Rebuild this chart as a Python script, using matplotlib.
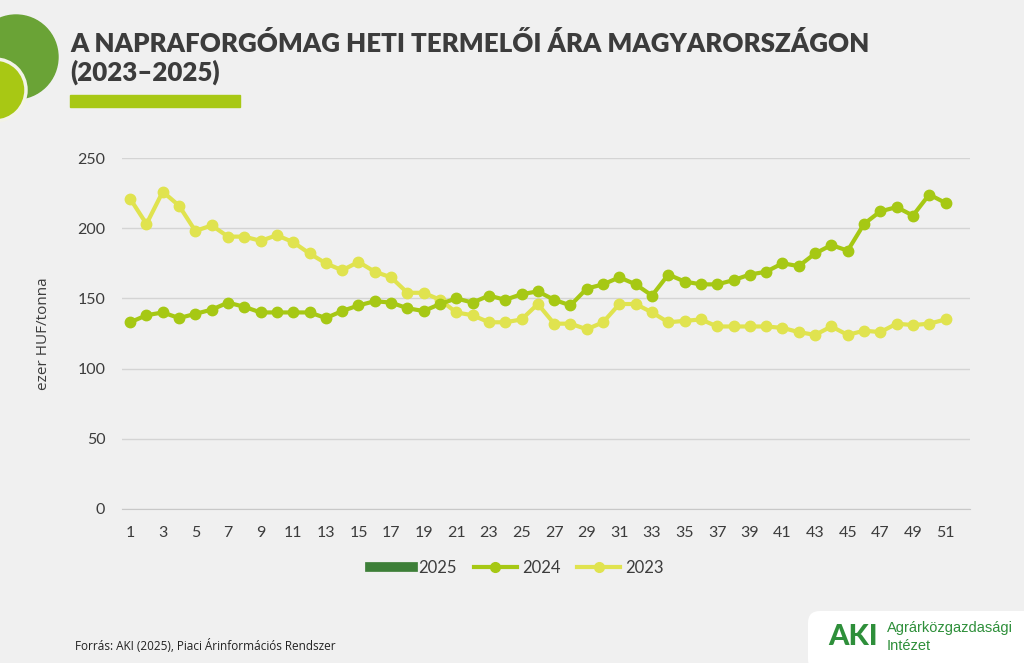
import numpy as np
import matplotlib.pyplot as plt
from matplotlib.patches import Circle, Rectangle, FancyBboxPatch
from matplotlib.lines import Line2D

# heti adatok (ezer HUF/tonna)
weeks = list(range(1, 52))
y2024 = [133, 138, 140, 136, 139, 142, 147, 144, 140, 140, 140, 140, 136, 141, 145,
         148, 147, 143, 141, 146, 150, 147, 152, 149, 153, 155, 149, 145, 157, 160,
         165, 160, 152, 167, 162, 160, 160, 163, 167, 169, 175, 173, 182, 188, 184,
         203, 212, 215, 209, 224, 218]
y2023 = [221, 203, 226, 216, 198, 202, 194, 194, 191, 195, 190, 182, 175, 170, 176,
         169, 165, 154, 154, 149, 140, 138, 133, 133, 135, 146, 132, 132, 128, 133,
         146, 146, 140, 133, 134, 135, 130, 130, 130, 130, 129, 126, 124, 130, 124,
         127, 126, 132, 131, 132, 135]
xticks = list(range(1, 52, 2))
yticks = [0, 50, 100, 150, 200, 250]

bg = '#f0f0f0'
c2025 = '#3d7f38'
c2024 = '#a6c814'
c2023 = '#e0e34f'
txt = '#3c3c3c'

fig = plt.figure(figsize=(10.24, 6.63), dpi=100, facecolor=bg)

# díszítő körök a bal felső sarokban
deco = fig.add_axes([0, 0, 1, 1], facecolor='none')
deco.set_xlim(0, 1024)
deco.set_ylim(663, 0)
deco.axis('off')
deco.add_patch(Circle((16, 57), 42, color='#6aa336', zorder=1))
deco.add_patch(Circle((-5, 90), 31, facecolor='#a8c814', edgecolor='#f3f3e8', lw=2.5, zorder=2))
deco.add_patch(Rectangle((70, 95), 170, 12, color='#a8c814'))

fig.text(70 / 1024, 1 - 44 / 663, 'A NAPRAFORGÓMAG HETI TERMELŐI ÁRA MAGYARORSZÁGON',
         fontsize=18.6, fontweight='heavy', family='Lato', color=txt, va='center')
fig.text(70 / 1024, 1 - 72 / 663, '(2023–2025)',
         fontsize=18.6, fontweight='heavy', family='Lato', color=txt, va='center')

# logó doboz
deco.add_patch(FancyBboxPatch((812, 614), 240, 60, boxstyle='round,pad=0,rounding_size=12',
                              facecolor='#c8c8c8', edgecolor='none', zorder=1))
deco.add_patch(FancyBboxPatch((808, 611), 240, 60, boxstyle='round,pad=0,rounding_size=12',
                              facecolor='white', edgecolor='none', zorder=2))
deco.text(828, 637, 'AKI', fontsize=21, fontweight='black', family='Lato', color='#2e8f3a',
          va='center', ha='left', zorder=3)
deco.text(887, 628, 'Agrárközgazdasági', fontsize=10.5, family='Liberation Sans', color='#2e8f3a',
          va='center', zorder=3)
deco.text(887, 646, 'Intézet', fontsize=10.5, family='Liberation Sans', color='#2e8f3a',
          va='center', zorder=3)

fig.text(75 / 1024, 1 - 646 / 663, 'Forrás: AKI (2025), Piaci Árinformációs Rendszer',
         fontsize=8.5, family='Open Sans', color='#222222', va='center')

# diagram
ax = fig.add_axes([122 / 1024, 1 - 509 / 663, 848 / 1024, 351 / 663], facecolor='none')
ax.plot(weeks, y2023, color=c2023, lw=3, marker='o', ms=7.5, zorder=3)
ax.plot(weeks, y2024, color=c2024, lw=3, marker='o', ms=7.5, zorder=4)
ax.set_xlim(0.5, 52.5)
ax.set_ylim(0, 250)
ax.set_xticks(xticks)
ax.set_yticks(yticks)
ax.yaxis.grid(True, color='#d4d4d4', lw=1)
ax.set_axisbelow(True)
for s in ['top', 'right', 'left']:
    ax.spines[s].set_visible(False)
ax.spines['bottom'].set_color('#c8c8c8')
ax.tick_params(length=0, labelsize=11.5, labelcolor=txt, pad=12)
ax.tick_params(axis='y', pad=12)
for lab in ax.get_xticklabels() + ax.get_yticklabels():
    lab.set_family('Lato')
ax.set_ylabel('ezer HUF/tonna', fontsize=11, family='Open Sans', color=txt, labelpad=19)

handles = [Line2D([], [], color=c2025, lw=7),
           Line2D([], [], color=c2024, lw=3, marker='o', ms=7),
           Line2D([], [], color=c2023, lw=3, marker='o', ms=7)]
leg = fig.legend(handles, ['2025', '2024', '2023'], loc='center', ncol=3,
                 bbox_to_anchor=(517 / 1024, 1 - 568 / 663), frameon=False,
                 prop={'family': 'Lato', 'size': 12}, handlelength=2.6,
                 handletextpad=0.3, columnspacing=1.0)
for t in leg.get_texts():
    t.set_color(txt)

fig.savefig('out.png', dpi=100, facecolor=bg)
